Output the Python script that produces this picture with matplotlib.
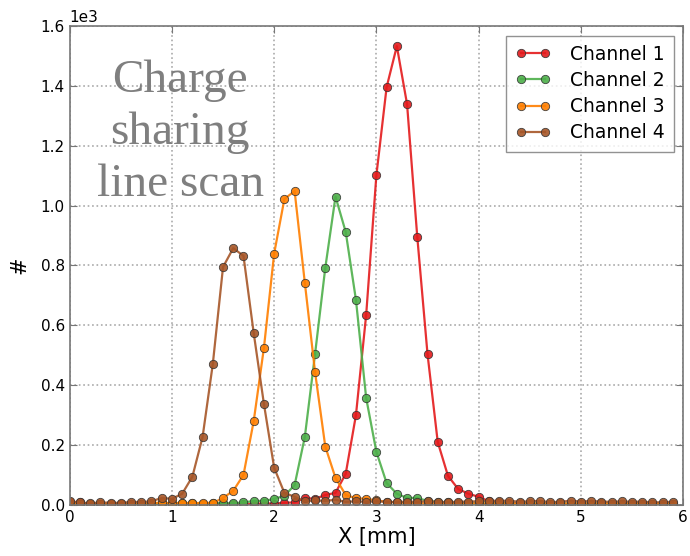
import numpy as np
import matplotlib
matplotlib.use("Agg")
import matplotlib.pyplot as plt

# scan positions [mm], 0.1 mm steps
x = np.round(np.arange(60) * 0.1, 1)

ch1 = [10, 8, 3, 2, 3, 2, 3, 2, 3, 4, 3, 2, 3, 2, 3, 2, 3, 4, 3, 5,
       4, 7, 8, 23, 20, 33, 40, 104, 300, 635, 1102, 1396, 1533, 1339, 895, 504, 210, 97, 53, 37,
       27, 12, 8, 6, 5, 4, 3, 4, 3, 3, 4, 3, 3, 4, 3, 3, 4, 3, 3, 3]
ch2 = [4, 3, 4, 3, 3, 4, 3, 4, 3, 5, 4, 5, 6, 4, 5, 6, 5, 8, 13, 13,
       20, 30, 66, 227, 504, 792, 1030, 912, 685, 357, 177, 73, 37, 23, 23, 13, 10, 8, 6, 5,
       5, 4, 5, 4, 4, 5, 4, 4, 5, 4, 4, 4, 5, 4, 4, 4, 4, 4, 4, 4]
ch3 = [3, 3, 4, 3, 3, 4, 3, 4, 5, 8, 5, 7, 5, 7, 6, 23, 47, 100, 280, 525,
       840, 1022, 1049, 742, 444, 195, 90, 33, 22, 20, 15, 10, 8, 6, 5, 5, 4, 5, 4, 4,
       5, 4, 4, 4, 4, 4, 4, 4, 4, 4, 4, 4, 4, 4, 4, 4, 4, 4, 4, 4]
ch4 = [12, 8, 5, 8, 7, 6, 10, 9, 12, 23, 20, 37, 94, 227, 471, 795, 858, 832, 574, 337,
       124, 40, 27, 12, 15, 13, 17, 10, 12, 10, 12, 10, 9, 11, 10, 12, 10, 9, 10, 11,
       12, 14, 13, 14, 10, 12, 13, 9, 10, 14, 11, 13, 11, 10, 12, 10, 11, 8, 9, 10]

channels = ["Channel 1", "Channel 2", "Channel 3", "Channel 4"]
colors = ["#e41a1c", "#4daf4a", "#ff7f00", "#a65628"]

fig = plt.figure(figsize=(6.9, 5.56), dpi=100)
ax = fig.add_axes([0.101, 0.092, 0.889, 0.861])

for ys, lab, c in zip([ch1, ch2, ch3, ch4], channels, colors):
    ax.plot(x, ys, "-o", color=c, lw=1.6, ms=6, mec="#333333", mew=0.6,
            label=lab, alpha=0.9)

ax.set_xlim(0, 6)
ax.set_ylim(0, 1600)
ax.set_xticks(np.arange(0, 7, 1))
ax.set_yticks(np.arange(0, 1601, 200))
ax.ticklabel_format(axis="y", style="sci", scilimits=(3, 3))
ax.yaxis.get_offset_text().set_fontsize(11)
ax.grid(True, color="#aaaaaa", linestyle=":", linewidth=1.2)
ax.tick_params(direction="in", top=True, right=True, labelsize=11, length=5,
               color="#777777")
for s in ax.spines.values():
    s.set_color("#777777")
    s.set_linewidth(1.2)

ax.set_xlabel("X [mm]", fontsize=15, labelpad=2)
ax.set_ylabel("#", fontsize=15, labelpad=8)

ax.text(0.18, 0.777, "Charge\nsharing\nline scan", transform=ax.transAxes,
        ha="center", va="center", fontsize=34, color="#7f7f7f",
        family="Liberation Serif", linespacing=1.3)

leg = ax.legend(loc="upper right", numpoints=2, fontsize=13.5, fancybox=False,
                handlelength=1.9, borderpad=0.5, labelspacing=0.38,
                handletextpad=1.0, borderaxespad=0.5)
leg.get_frame().set_edgecolor("#777777")
leg.get_frame().set_linewidth(1.0)

fig.savefig("out.png", dpi=100)
